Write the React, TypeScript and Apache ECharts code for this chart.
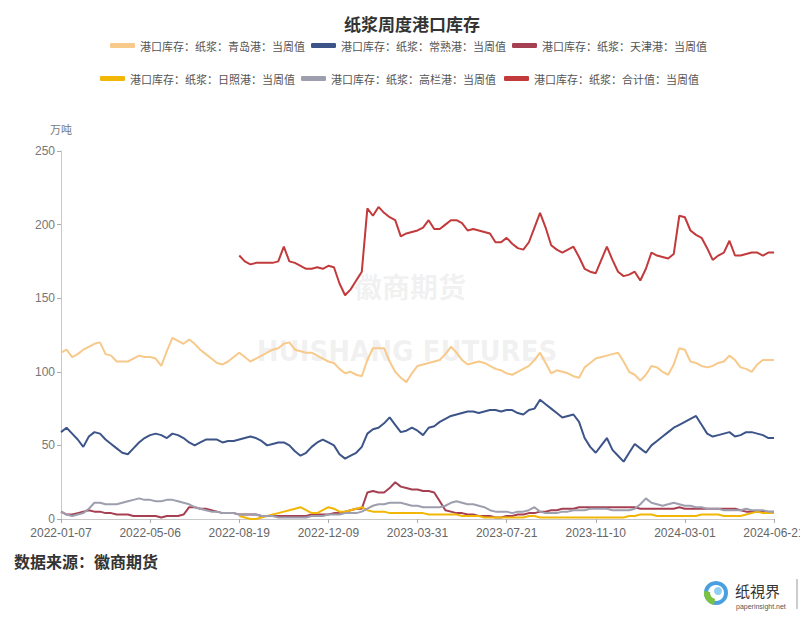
import React, { useEffect, useRef } from "react";
import * as echarts from "echarts";

// ---------- categories (weekly report dates) ----------
const FIRST_DATE = "2022-01-07";
const LAST_DATE = "2024-06-21";
const SKIPPED_DATES = ["2022-02-04"];
const EXTRA_DATES = ["2022-06-02"];

function buildDates(): string[] {
  const out: string[] = [];
  const fmt = (d: Date) => d.toISOString().slice(0, 10);
  const end = new Date(LAST_DATE + "T00:00:00Z").getTime();
  for (let t = new Date(FIRST_DATE + "T00:00:00Z").getTime(); t <= end; t += 7 * 86400000) {
    const s = fmt(new Date(t));
    if (SKIPPED_DATES.includes(s)) continue;
    out.push(s);
  }
  const all = out.concat(EXTRA_DATES);
  all.sort();
  return all;
}
const dates = buildDates();

// ---------- series names ----------
const names = [
  "港口库存：纸浆：青岛港：当周值",
  "港口库存：纸浆：常熟港：当周值",
  "港口库存：纸浆：天津港：当周值",
  "港口库存：纸浆：日照港：当周值",
  "港口库存：纸浆：高栏港：当周值",
  "港口库存：纸浆：合计值：当周值",
];
const colors = ["#F7C98B", "#3C5488", "#A53F52", "#F2B705", "#9D9EAE", "#C23A3B"];

// ---------- values (万吨) ----------
const qingdao = [
  113, 115, 110, 112, 115, 117, 119, 120, 112, 111, 107, 107, 107, 109, 111, 110,
  110, 109, 104, 114, 123, 121, 119, 122, 119, 115, 112, 109, 106, 105, 107, 110,
  113, 110, 107, 109, 111, 113, 115, 116, 119, 120, 115, 114, 113, 113, 111, 109,
  107, 106, 102, 99, 100, 98, 97, 108, 116, 116, 116, 107, 100, 96, 93, 99,
  104, 105, 106, 107, 108, 112, 117, 113, 108, 105, 106, 107, 106, 104, 102, 101,
  99, 98, 100, 102, 104, 108, 113, 106, 99, 101, 100, 99, 97, 96, 103, 106,
  109, 110, 111, 112, 113, 107, 100, 98, 94, 98, 104, 103, 100, 98, 105, 116,
  115, 107, 106, 104, 103, 104, 106, 107, 111, 108, 103, 102, 100, 105, 108, 108,
  108,
];
const changshu = [
  59, 62, 58, 54, 49, 56, 59, 58, 54, 51, 48, 45, 44, 48, 52, 55,
  57, 58, 57, 55, 58, 57, 55, 52, 50, 52, 54, 54, 54, 52, 53, 53,
  54, 55, 56, 55, 53, 50, 51, 52, 52, 50, 46, 43, 45, 49, 52, 54,
  52, 50, 44, 41, 43, 45, 49, 58, 61, 62, 65, 69, 64, 59, 60, 62,
  60, 57, 62, 63, 66, 68, 70, 71, 72, 73, 73, 72, 73, 74, 74, 73,
  74, 74, 72, 71, 74, 75, 81, 78, 75, 72, 69, 70, 71, 66, 55, 49,
  45, 50, 55, 47, 43, 39, 45, 51, 48, 45, 50, 53, 56, 59, 62, 64,
  66, 68, 70, 64, 58, 56, 57, 58, 59, 56, 57, 59, 59, 58, 57, 55,
  55,
];
const tianjin = [
  5, 3, 3, 4, 5, 6, 5, 5, 4, 4, 3, 3, 3, 2, 2, 2,
  2, 2, 1, 2, 2, 2, 3, 8, 8, 7, 7, 6, 5, 4, 4, 4,
  3, 3, 3, 3, 2, 2, 2, 2, 2, 2, 2, 2, 2, 3, 3, 3,
  3, 4, 4, 5, 6, 7, 7, 18, 19, 18, 18, 21, 25, 22, 21, 20,
  20, 19, 19, 18, 12, 6, 5, 4, 4, 3, 3, 2, 2, 2, 1, 1,
  2, 2, 3, 3, 4, 4, 5, 5, 6, 6, 7, 7, 7, 8, 8, 8,
  8, 8, 8, 8, 8, 8, 8, 8, 7, 7, 7, 7, 7, 7, 7, 8,
  7, 7, 7, 7, 7, 7, 7, 7, 7, 7, 6, 5, 5, 5, 5, 5,
  5,
];
const rizhao = [
  null, null, null, null, null, null, null, null, null, null, null, null, null, null, null, null,
  null, null, null, null, null, null, null, null, null, null, null, null, null, null, null, null,
  2, 1, 0, 0, 1, 2, 3, 4, 5, 6, 7, 8, 6, 4, 4, 6,
  8, 7, 5, 5, 6, 7, 8, 6, 5, 5, 5, 4, 4, 4, 4, 4,
  4, 4, 3, 3, 3, 3, 3, 3, 2, 2, 2, 2, 1, 1, 1, 1,
  1, 1, 1, 1, 2, 2, 1, 1, 1, 1, 1, 1, 1, 1, 1, 1,
  1, 1, 1, 1, 1, 1, 2, 2, 3, 3, 3, 2, 2, 2, 2, 2,
  2, 2, 2, 3, 3, 3, 3, 2, 2, 2, 2, 3, 4, 5, 4, 4,
  4,
];
const gaolan = [
  5, 3, 2, 3, 4, 7, 11, 11, 10, 10, 10, 11, 12, 13, 14, 13,
  13, 12, 12, 13, 13, 12, 11, 10, 8, 7, 6, 5, 5, 4, 4, 4,
  3, 3, 3, 3, 2, 2, 2, 1, 1, 1, 1, 1, 1, 2, 2, 2,
  3, 3, 3, 4, 4, 4, 5, 7, 9, 10, 10, 11, 11, 11, 10, 9,
  9, 8, 8, 8, 8, 9, 11, 12, 11, 10, 10, 9, 8, 6, 5, 5,
  5, 4, 5, 5, 6, 8, 5, 4, 4, 4, 5, 5, 6, 6, 6, 7,
  7, 7, 7, 6, 6, 6, 6, 7, 10, 14, 11, 10, 9, 10, 11, 10,
  9, 9, 8, 8, 7, 7, 7, 6, 6, 6, 6, 7, 6, 6, 6, 5,
  5,
];
const total = [
  null, null, null, null, null, null, null, null, null, null, null, null, null, null, null, null,
  null, null, null, null, null, null, null, null, null, null, null, null, null, null, null, null,
  179, 175, 173, 174, 174, 174, 174, 175, 185, 175, 174, 172, 170, 170, 171, 170,
  172, 171, 160, 152, 156, 162, 168, 211, 206, 212, 208, 205, 203, 192, 194, 195,
  196, 198, 203, 197, 197, 200, 203, 203, 201, 196, 197, 196, 195, 194, 188, 188,
  191, 187, 184, 183, 188, 198, 208, 198, 186, 183, 181, 183, 185, 178, 170, 168,
  167, 176, 185, 176, 168, 165, 166, 168, 162, 170, 181, 179, 178, 177, 180, 206,
  205, 196, 193, 191, 184, 176, 179, 181, 189, 179, 179, 180, 181, 181, 179, 181,
  181,
];
const seriesValues = [qingdao, changshu, tianjin, rizhao, gaolan, total];

// ---------- axis ----------
const yTicks = { min: 0, max: 250, interval: 50 };
const yUnit = "万吨";
const titleText = "纸浆周度港口库存";
const sourceText = "数据来源：徽商期货";

// legend item positions
const LEG_X = [110, 311, 512, 100, 301, 504];
const LEG_Y = [40, 40, 40, 73, 73, 73];

const CJK = "'Noto Sans CJK SC', 'Noto Sans', sans-serif";
const LATIN = "'Liberation Sans', Arial, sans-serif";

export default function App() {
  const ref = useRef<HTMLDivElement>(null);
  useEffect(() => {
    if (!ref.current) return;
    const chart = echarts.init(ref.current, undefined, { renderer: "svg" });
    const option: any = {
      animation: false,
      backgroundColor: "#ffffff",
      title: {
        text: titleText,
        left: 407,
        top: 10,
        textAlign: "center",
        textStyle: { fontFamily: CJK, fontSize: 17, fontWeight: "bold", color: "#333" },
      },
      legend: names.map((n, i) => ({
        data: [n],
        left: LEG_X[i],
        top: LEG_Y[i],
        padding: 0,
        icon: "roundRect",
        itemWidth: 25,
        itemHeight: 5,
        itemGap: 6,
        textStyle: { fontFamily: CJK, fontSize: 11, color: "#555" },
      })),
      grid: { left: 61, right: 26, top: 151, bottom: 101, outerBoundsMode: "none", containLabel: false },
      xAxis: {
        type: "category",
        data: dates,
        boundaryGap: false,
        axisLine: { lineStyle: { color: "#c8c8c8", width: 1 } },
        axisTick: { interval: 15, length: 4, lineStyle: { color: "#aaa" } },
        axisLabel: { interval: 15, color: "#666", fontSize: 12, fontFamily: LATIN, margin: 8 },
        splitLine: { show: false },
      },
      yAxis: {
        type: "value",
        min: yTicks.min,
        max: yTicks.max,
        interval: yTicks.interval,
        name: yUnit,
        nameLocation: "end",
        nameGap: 17,
        nameTextStyle: { color: "#777", fontSize: 11, fontFamily: CJK, align: "center" },
        axisLine: { show: true, lineStyle: { color: "#c8c8c8" } },
        axisTick: { show: true, length: 4, lineStyle: { color: "#aaa" } },
        axisLabel: { color: "#777", fontSize: 12, fontFamily: LATIN, margin: 6 },
        splitLine: { show: false },
      },
      series: names.map((n, i) => ({
        name: n,
        type: "line",
        data: seriesValues[i],
        showSymbol: false,
        symbol: "none",
        connectNulls: false,
        lineStyle: { width: 2, color: colors[i] },
        itemStyle: { color: colors[i] },
        z: 3,
      })),
      graphic: [
        {
          type: "text",
          x: 410,
          y: 286,
          z: 0,
          silent: true,
          style: {
            text: "徽商期货",
            font: "bold 28px 'Noto Sans CJK SC'",
            fill: "rgba(150,150,150,0.14)",
            textAlign: "center",
            textVerticalAlign: "middle",
          },
        },
        {
          type: "text",
          x: 407,
          y: 351,
          z: 0,
          silent: true,
          style: {
            text: "HUISHANG FUTURES",
            font: "bold 29px 'DejaVu Sans Condensed', 'Liberation Sans Narrow', sans-serif",
            fill: "rgba(150,150,150,0.14)",
            textAlign: "center",
            textVerticalAlign: "middle",
          },
        },
        {
          type: "text",
          x: 14,
          y: 553,
          style: {
            text: sourceText,
            font: "bold 16px 'Noto Sans CJK SC'",
            fill: "#333",
          },
        },
        {
          type: "circle",
          shape: { cx: 716, cy: 593, r: 10 },
          style: { fill: "none", stroke: "#4a9fe0", lineWidth: 4 },
        },
        {
          type: "sector",
          shape: { cx: 716, cy: 593, r: 12, r0: 6, startAngle: Math.PI * 0.55, endAngle: Math.PI * 1.05 },
          style: { fill: "#7cc242" },
        },
        {
          type: "circle",
          shape: { cx: 718, cy: 591, r: 4 },
          style: { fill: "#8fd0f5" },
        },
        {
          type: "text",
          x: 735,
          y: 590,
          style: {
            text: "纸視界",
            font: "15px 'Noto Sans CJK SC'",
            fill: "#333",
            lineHeight: 15,
            textVerticalAlign: "middle",
          },
        },
        {
          type: "text",
          x: 736,
          y: 606,
          style: {
            text: "paperinsight.net",
            font: "7px 'Liberation Sans'",
            fill: "#555",
            lineHeight: 7,
            textVerticalAlign: "middle",
          },
        },
        {
          type: "line",
          shape: { x1: 797, y1: 579, x2: 797, y2: 609 },
          style: { stroke: "#999", lineWidth: 1 },
        },
      ],
    };
    chart.setOption(option);
    return () => chart.dispose();
  }, []);
  return (
    <div
      ref={ref}
      style={{ position: "fixed", left: 0, top: 0, width: 800, height: 620, background: "#fff" }}
    />
  );
}
